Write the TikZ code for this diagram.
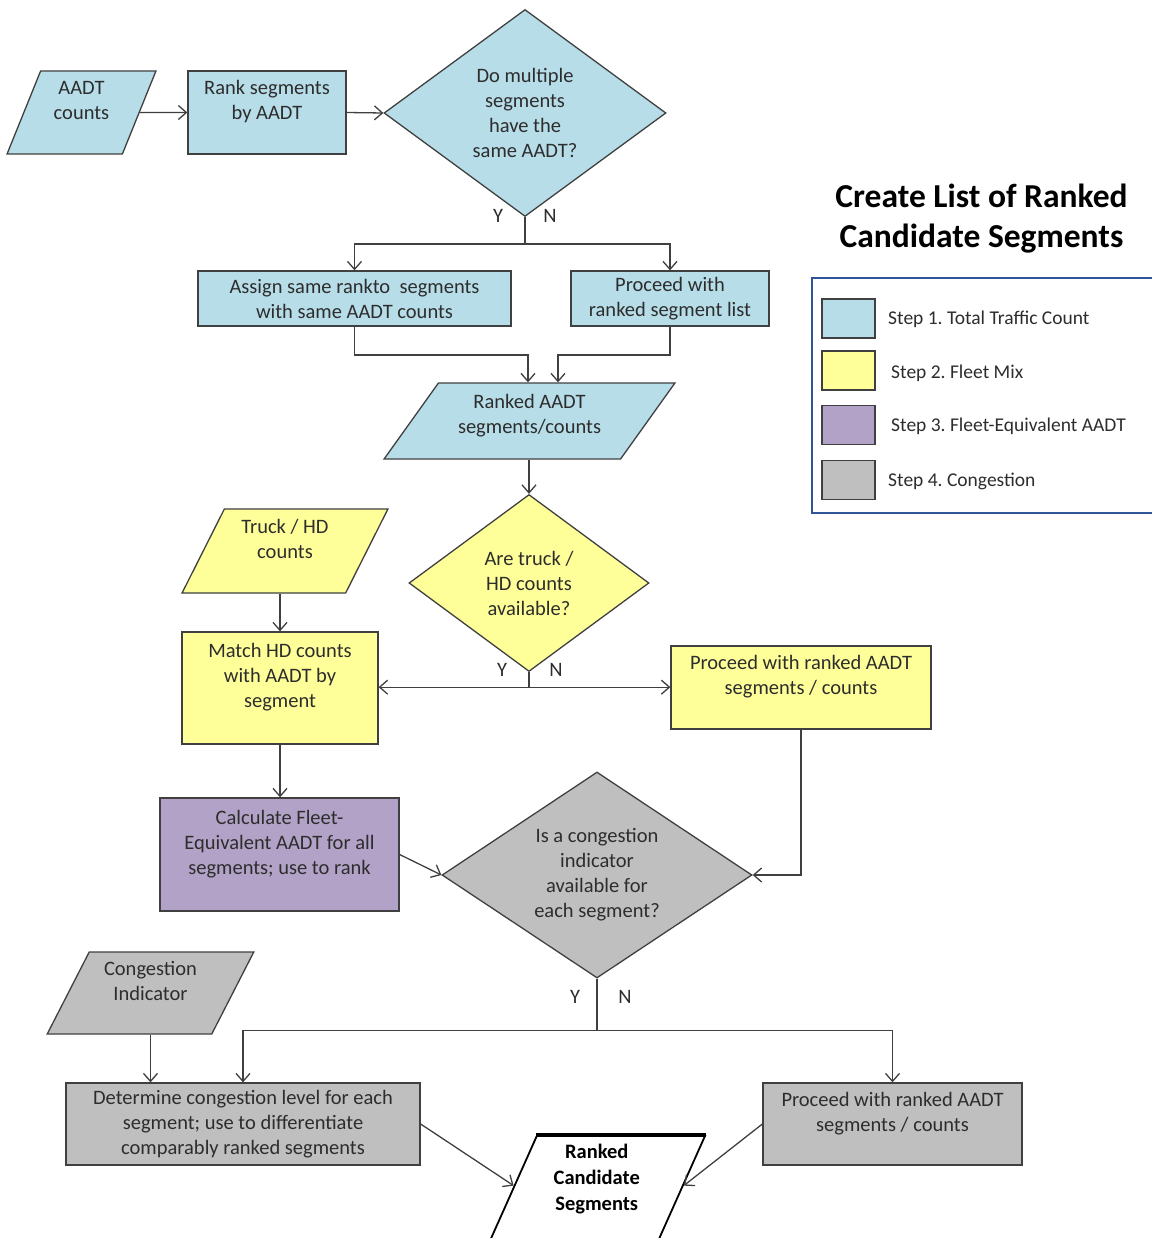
\documentclass[tikz,border=0pt]{standalone}
\usepackage{fontspec}
\setmainfont{Carlito}
\usetikzlibrary{shapes.geometric,arrows.meta,calc}
\definecolor{bluef}{RGB}{183,221,232}
\definecolor{yellowf}{RGB}{255,255,153}
\definecolor{purplef}{RGB}{179,162,199}
\definecolor{grayf}{RGB}{191,191,191}
\definecolor{bord}{RGB}{64,64,64}
\definecolor{txt}{RGB}{45,45,45}
\definecolor{legb}{RGB}{47,85,151}
\frenchspacing
\begin{document}
\begin{tikzpicture}[x=1pt,y=-1pt,
  font=\fontsize{20.5}{25}\selectfont,
  every node/.style={text=txt},
  box/.style={draw=bord, line width=1.3pt, rectangle, inner sep=2pt, align=center},
  para/.style={draw=bord, line width=1.3pt, trapezium, trapezium stretches=true, inner sep=2pt, align=center},
  dia/.style={draw=bord, line width=1.3pt, diamond, inner sep=0pt, align=center},
  arr/.style={draw=bord, line width=1.3pt, -{Straight Barb[length=8pt,width=14pt]}},
  ln/.style={draw=bord, line width=1.3pt},
  yn/.style={inner sep=0pt},
  legtxt/.style={anchor=west, inner sep=0pt, font=\fontsize{19.5}{24}\selectfont},
  swatch/.style={draw=bord, line width=1.3pt, minimum width=53pt, minimum height=39pt, inner sep=0pt},
]
\useasboundingbox (0,0) rectangle (1151,1238);
\fill[white] (0,0) rectangle (1151,1238);

% title and legend
\node[align=center, font=\bfseries\fontsize{33.5}{40}\selectfont, text=black] (title) at (981.5,219) {Create List of Ranked\\Candidate Segments};
\node[draw=legb, line width=2.5pt, minimum width=358pt, minimum height=235pt, inner sep=0pt] (legend) at (991,395.5) {};
\node[swatch, fill=bluef] (sw1) at (848.5,318.5) {};
\node[swatch, fill=yellowf] (sw2) at (848.5,370.5) {};
\node[swatch, fill=purplef] (sw3) at (848.5,425) {};
\node[swatch, fill=grayf] (sw4) at (848.5,480) {};
\node[legtxt] (lt1) at (888,319) {Step 1. Total Traffic Count};
\node[legtxt] (lt2) at (891,373) {Step 2. Fleet Mix};
\node[legtxt] (lt3) at (891,426) {Step 3. Fleet-Equivalent AADT};
\node[legtxt] (lt4) at (888,481) {Step 4. Congestion};

% step 1
\node[para, fill=bluef, trapezium left angle=70, trapezium right angle=110, minimum width=149pt, minimum height=83pt] (aadt) at (81.5,112.5) {AADT\\counts\\\mbox{}};
\node[box, fill=bluef, minimum width=158pt, minimum height=83pt] (rank) at (267,112.5) {Rank segments\\by AADT\\\mbox{}};
\node[dia, fill=bluef, shape aspect=1.36, minimum width=282pt, minimum height=207pt] (d1) at (525,113) {Do multiple\\segments\\have the\\same AADT?};
\node[box, fill=bluef, minimum width=313pt, minimum height=55pt] (assign) at (354.5,298.5) {Assign same rankto~ segments\\with same AADT counts};
\node[box, fill=bluef, minimum width=198pt, minimum height=55pt] (proc1) at (670,298.5) {Proceed with\\ranked segment list};
\node[para, fill=bluef, trapezium left angle=53, trapezium right angle=127, minimum width=291pt, minimum height=76pt] (ranked) at (529.5,421) {Ranked AADT\\segments/counts\\[-10pt]\mbox{}};

% step 2
\node[dia, fill=yellowf, shape aspect=1.36, minimum width=240pt, minimum height=177pt] (d2) at (529,583) {Are truck /\\HD counts\\available?};
\node[para, fill=yellowf, trapezium left angle=65, trapezium right angle=115, minimum width=206pt, minimum height=84pt] (truck) at (285,551) {Truck / HD\\counts\\\mbox{}};
\node[box, fill=yellowf, minimum width=196pt, minimum height=112pt] (match) at (280,688) {Match HD counts\\with AADT by\\segment\\\mbox{}};
\node[box, fill=yellowf, minimum width=260pt, minimum height=83pt] (proc2) at (801,687.5) {Proceed with ranked AADT\\segments / counts\\\mbox{}};

% step 3
\node[box, fill=purplef, minimum width=239pt, minimum height=113pt] (calc) at (279.5,854.5) {Calculate Fleet-\\Equivalent AADT for all\\segments; use to rank\\\mbox{}};

% step 4
\node[dia, fill=grayf, shape aspect=1.5, minimum width=310pt, minimum height=206pt] (d3) at (597,875) {Is a congestion\\indicator\\available for\\each segment?};
\node[para, fill=grayf, trapezium left angle=64, trapezium right angle=116, minimum width=207pt, minimum height=82pt] (cong) at (150.5,993) {Congestion\\Indicator\\\mbox{}};
\node[box, fill=grayf, minimum width=354pt, minimum height=82pt] (det) at (243,1124) {Determine congestion level for each\\segment; use to differentiate\\comparably ranked segments};
\node[box, fill=grayf, minimum width=259pt, minimum height=82pt] (proc3) at (892.5,1124) {Proceed with ranked AADT\\segments / counts\\\mbox{}};

% final output
\node[para, fill=white, draw=black, line width=1.8pt, text=black, font=\bfseries\fontsize{20.5}{26}\selectfont, trapezium left angle=69.4, trapezium right angle=110.6, minimum width=216.5pt, minimum height=108pt] (final) at (596.75,1190) {Ranked\\Candidate\\Segments\\\mbox{}};
\draw[black, line width=3.5pt] (final.top left corner) -- (final.top right corner);

% Y / N labels
\node[yn] (y1) at (498,216) {Y};
\node[yn] (n1) at (550,216) {N};
\node[yn] (y2) at (502,670) {Y};
\node[yn] (n2) at (556,670) {N};
\node[yn] (y3) at (575,997) {Y};
\node[yn] (n3) at (625,997) {N};

% connectors
\draw[arr] (aadt.east) -- (rank.west);
\draw[arr] (rank.east) -- (d1.west);
\draw[ln] (d1.south) -- ++(0,27) coordinate (j1);
\draw[arr] (j1) -| (assign.north);
\draw[arr] (j1) -| (proc1.north);
\coordinate (m1) at (528,355);
\coordinate (m2) at (558,355);
\draw[arr] (assign.south) |- (m1) -- (m1 |- ranked.north);
\draw[arr] (proc1.south) |- (m2) -- (m2 |- ranked.north);
\draw[arr] (ranked.south -| d2.north) -- (d2.north);
\draw[arr] (match.north |- truck.south) -- (match.north);
\draw[ln] (d2.south) -- ++(0,15) coordinate (j3);
\draw[arr] (j3) -- (j3 -| match.east);
\draw[arr] (j3) -- (j3 -| proc2.west);
\draw[arr] (match.south) -- (match.south |- calc.north);
\draw[arr] (calc.east) -- (d3.west);
\draw[arr] (proc2.south) |- (d3.east);
\draw[ln] (d3.south) -- ++(0,52) coordinate (j4);
\draw[arr] (j4) -| (det.north);
\draw[arr] (j4) -| (proc3.north);
\draw[arr] (cong.center |- cong.south) -- (cong.center |- det.north);
\coordinate (fl) at ($(final.top left corner)!0.46!(final.bottom left corner)$);
\coordinate (fr) at ($(final.top right corner)!0.46!(final.bottom right corner)$);
\draw[arr] (det.east) -- (fl);
\draw[arr] (proc3.west) -- (fr);
\end{tikzpicture}
\end{document}
